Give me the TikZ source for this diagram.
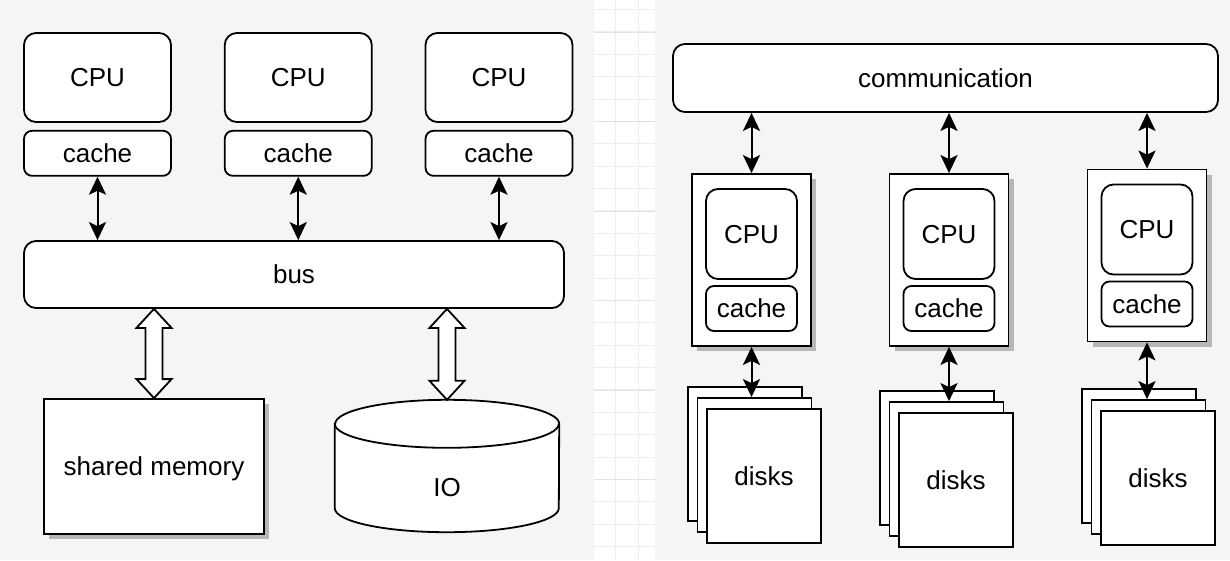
\documentclass[tikz,border=0pt]{standalone}
\usepackage{fontspec}
\setmainfont{Liberation Sans}
\usetikzlibrary{positioning,arrows.meta,shadows,calc}
\definecolor{panelgray}{HTML}{F5F5F5}
\definecolor{gridminor}{HTML}{EEEEEE}
\definecolor{gridmajor}{HTML}{E2E2E2}
\newcommand\hollowlink[2]{%
  \draw[hollow] (#1) -- ++(17.5,19) -- ++(-9,0) -- ($(#2)+(8.5,-19)$) -- ++(9,0)
    -- (#2) -- ++(-17.5,-19) -- ++(9,0) -- ($(#1)+(-8.5,19)$) -- ++(-9,0) -- cycle;}
\begin{document}
\begin{tikzpicture}[x=1pt,y=-1pt,
font=\fontsize{26}{31}\selectfont,
txt/.style={inner sep=0pt, text height=23.5pt, text depth=5.5pt},
box/.style={
  txt,
  draw,
  line width=1.8pt,
  fill=white
  },
cpubox/.style={box, rounded corners=12pt, minimum width=147pt, minimum height=89pt},
cachebox/.style={box, rounded corners=8pt, minimum width=147pt, minimum height=45pt},
boxshadow/.style={drop shadow={shadow xshift=5pt, shadow yshift=-5pt, fill=black, opacity=0.25}},
nodebox/.style={box, boxshadow, minimum width=119pt, minimum height=172pt},
innercpu/.style={box, rounded corners=12pt, minimum width=91pt, minimum height=90pt},
innercache/.style={box, rounded corners=8pt, minimum width=91pt, minimum height=45pt},
sheet/.style={box, minimum width=114pt, minimum height=134pt},
link/.style={<->, >={Stealth[length=18pt,width=17pt,inset=4pt]}, line width=2pt},
hollow/.style={draw, line width=1.8pt, fill=white, line join=miter}
]
\useasboundingbox (0,0) rectangle (1230,560);
\fill[panelgray] (0,0) rectangle (594,560);
\fill[white] (594,0) rectangle (655,560);
\fill[panelgray] (655,0) rectangle (1230,560);
\foreach \k in {0,...,24}
  \draw[gridminor, line width=1pt] (594,9.6+22.375*\k) -- (655,9.6+22.375*\k);
\foreach \gx in {615.9,638.3}
  \draw[gridminor, line width=1pt] (\gx,0) -- (\gx,560);
\foreach \k in {0,...,5}
  \draw[gridmajor, line width=1pt] (594,32+89.5*\k) -- (655,32+89.5*\k);

\foreach \i/\x in {1/97.5, 2/298.25, 3/499}
  {
  \node[cpubox] (cpu\i) at (\x,77.5) {CPU};
  \node[cachebox, below=7pt of cpu\i] (cache\i) {cache};
  }
\node[box, rounded corners=12pt, minimum width=540pt, minimum height=67pt] (bus) at (294,274.5) {bus};
\foreach \i in {1,2,3}
  \draw[link] (cache\i.south) -- (cache\i.south |- bus.north);

\node[box, boxshadow, minimum width=220pt, minimum height=135pt] (mem) at (154,466.5) {shared memory};
\node[txt, minimum width=224pt, minimum height=132pt] (io) at (447,466) {};
\draw[box] ([yshift=-24pt]io.north west) -- ([yshift=24pt]io.south west)
  arc[start angle=180, end angle=360, x radius=112pt, y radius=24pt]
  -- ([yshift=-24pt]io.north east)
  arc[start angle=0, end angle=180, x radius=112pt, y radius=24pt] -- cycle;
\draw[line width=1.8pt] ([yshift=-24pt]io.north west)
  arc[start angle=180, end angle=360, x radius=112pt, y radius=24pt];
\node[txt] (iotext) at ([yshift=-21pt]io.center) {IO};
\coordinate (memtop) at (bus.south -| mem.north);
\coordinate (iotop) at (bus.south -| io.north);
\hollowlink{memtop}{mem.north}
\hollowlink{iotop}{io.north}

\node[box, rounded corners=12pt, minimum width=545pt, minimum height=68pt] (comm) at (945.5,78) {communication};
\foreach \i/\x/\y in {1/751.5/260, 2/949/260, 3/1147/255.5}
  {
  \node[nodebox] (nd\i) at (\x,\y) {};
  \node[innercpu, below=15pt of nd\i.north] (ncpu\i) {CPU};
  \node[innercache, above=15pt of nd\i.south] (ncache\i) {cache};
  \draw[link] (comm.south -| nd\i.north) -- (nd\i.north);
  }
\foreach \i/\x/\y in {1/764/476, 2/956/480, 3/1158/478}
  {
  \node[sheet] (dkb\i) at (\x-19,\y-22) {};
  \node[sheet] (dkm\i) at (\x-9.5,\y-11) {};
  \node[sheet] (dkf\i) at (\x,\y) {disks};
  \draw[link] (nd\i.south) -- (nd\i.south |- dkm\i.north);
  }
\end{tikzpicture}
\end{document}
